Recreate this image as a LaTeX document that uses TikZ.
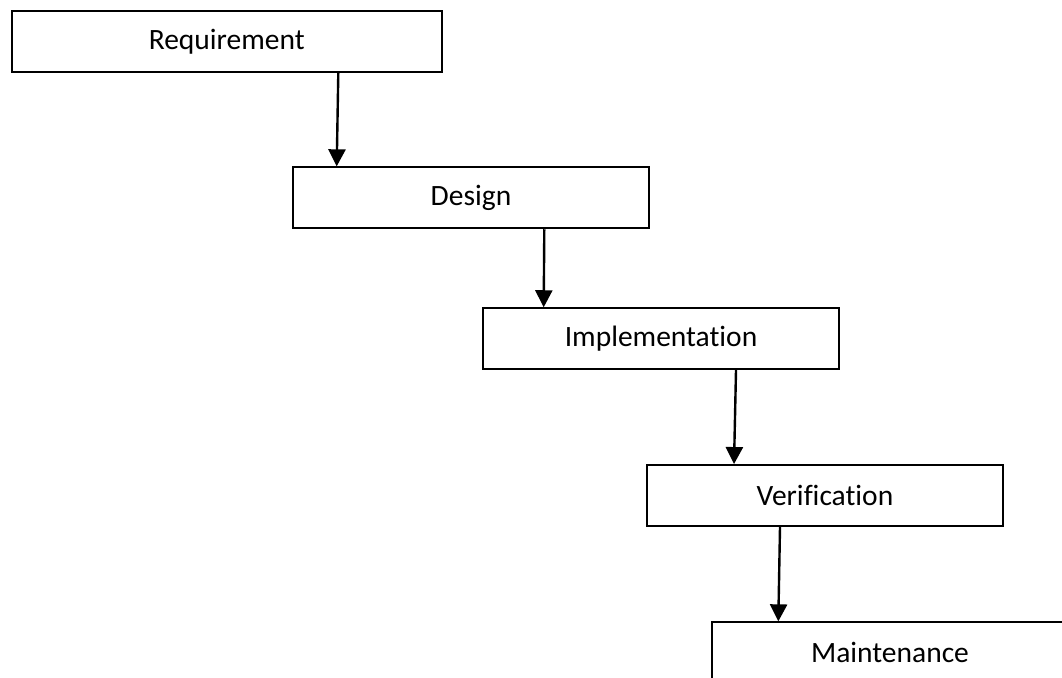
\documentclass[tikz,border=0pt]{standalone}
\usepackage{fontspec}
\setmainfont[Ligatures={NoCommon}]{Carlito}
\usetikzlibrary{arrows.meta,calc}

\tikzset{
  phase/.style={draw=black, line width=1.9pt, rectangle, inner sep=0pt,
    minimum width=356pt, minimum height=61pt,
    font=\fontsize{29.5}{34}\selectfont, text=black},
  flow/.style={draw=black, line width=2.4pt,
    -{Triangle[width=17pt,length=17pt]}, shorten >=0pt}
}

\begin{document}
\begin{tikzpicture}[x=1pt, y=-1pt]
  \useasboundingbox (0,0) rectangle (1062,677);

  % waterfall stages, each one stepping down and to the right
  \node[phase, minimum width=430pt] (req) at (226.7,41.5) {\raisebox{-1.5pt}{Requirement}};
  \node[phase] (des) at (471,197.8) {\raisebox{-1.5pt}{Design}};
  \node[phase] (imp) at (661,338.7) {\raisebox{-1.5pt}{Implementation}};
  \node[phase] (ver) at (825,495.5) {\raisebox{-1.5pt}{Verification}};
  \node[phase] (mai) at (890,652.8) {\raisebox{-1.5pt}{Maintenance}};

  % hand-off arrows between consecutive stages
  \draw[flow] ([xshift=111.6pt]req.south) -- ([xshift=-134.3pt]des.north);
  \draw[flow] ([xshift=73.3pt]des.south) -- ([xshift=-117.3pt]imp.north);
  \draw[flow] ([xshift=75pt]imp.south) -- ([xshift=-91pt]ver.north);
  \draw[flow] ([xshift=-45pt]ver.south) -- ([xshift=-111.7pt]mai.north);
\end{tikzpicture}
\end{document}
